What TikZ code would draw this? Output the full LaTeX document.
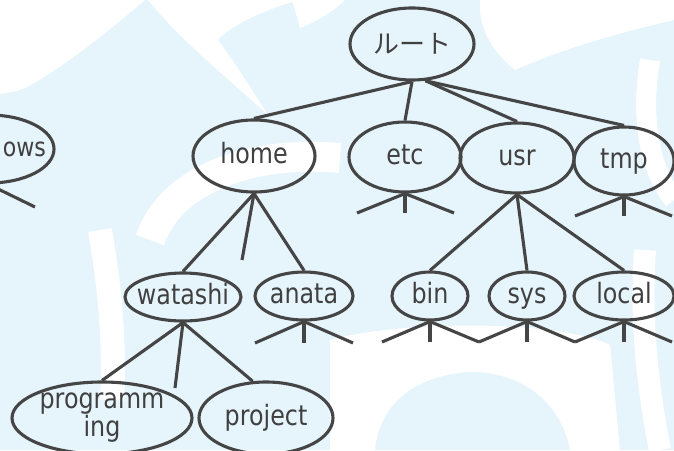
\documentclass[tikz,border=0pt]{standalone}
\usepackage{fontspec}
\setmainfont{DejaVu Sans}[FakeStretch=0.85]
\newfontfamily\jpfont{Noto Sans CJK JP}
\usetikzlibrary{shapes.geometric}
\definecolor{bgblue}{HTML}{E6F4FB}
\definecolor{inkgray}{HTML}{454545}
\definecolor{textgray}{HTML}{404040}

\begin{document}
\begin{tikzpicture}[x=1pt, y=-1pt,
    dir/.style={ellipse, draw=inkgray, line width=3.1pt, inner sep=-12pt,
        text=textgray, font=\fontsize{28}{25}\selectfont},
    onerow/.style={text height=21pt, text depth=7pt},
    branch/.style={draw=inkgray, line width=3.1pt}]
    \useasboundingbox (0,0) rectangle (674,450);
    \clip (0,0) rectangle (674,450);

    % background pattern
    \fill[bgblue] (0,0) rectangle (674,450);
    \fill[white] (0,0) -- (145,0) .. controls (110,30) and (60,70) .. (25,88)
        .. controls (15,92) and (5,93) .. (0,94) -- cycle;
    \fill[white] (148,0) -- (300,0) .. controls (260,10) and (225,30) .. (218,40)
        .. controls (240,70) and (255,95) .. (268,115)
        .. controls (230,80) and (180,40) .. (148,0) -- cycle;
    \fill[white] (292,0) -- (345,0) .. controls (335,10) and (320,20) .. (300,28) -- cycle;
    \fill[white] (480,0) -- (674,0) -- (674,20) .. controls (610,35) and (560,50) .. (515,70)
        .. controls (490,50) and (478,25) .. (480,0) -- cycle;
    \draw[white, line width=20pt] (650,60) .. controls (640,120) and (650,170) .. (674,200);
    \draw[white, line width=30pt] (150,240) .. controls (170,180) and (250,150) .. (340,158);
    \draw[white, line width=24pt] (100,230) .. controls (110,290) and (115,340) .. (112,400);
    \fill[white] (330,340) .. controls (400,320) and (560,320) .. (610,345)
        -- (620,450) -- (330,450) -- cycle;
    \fill[bgblue] (375,450) .. controls (380,400) and (420,375) .. (470,372)
        .. controls (520,372) and (560,400) .. (570,450) -- cycle;
    \draw[white, line width=22pt] (645,250) .. controls (640,320) and (648,390) .. (660,450);

    \node[dir, minimum width=124, minimum height=72] (root) at (412,44) {\jpfont\fontsize{26}{28}\selectfont ルート};
    \node[dir, onerow, minimum width=130, minimum height=68, text width=114, align=right,
        font=\fontsize{26}{25}\selectfont] (win) at (-11,149) {ows};
    \node[dir, onerow, minimum width=122, minimum height=72] (home) at (254,156) {home};
    \node[dir, onerow, minimum width=112, minimum height=70] (etc) at (405,157) {etc};
    \node[dir, onerow, minimum width=114, minimum height=70] (usr) at (517,158) {usr};
    \node[dir, onerow, minimum width=100, minimum height=68] (tmp) at (624,161) {tmp};
    \node[dir, onerow, minimum width=116, minimum height=48] (watashi) at (183,297) {watashi};
    \node[dir, onerow, minimum width=98, minimum height=48] (anata) at (304,296) {anata};
    \node[dir, onerow, minimum width=76, minimum height=48] (bin) at (430,296) {bin};
    \node[dir, onerow, minimum width=76, minimum height=48] (sys) at (527,296) {sys};
    \node[dir, onerow, minimum width=100, minimum height=48] (local) at (624,296) {local};
    \node[dir, minimum width=180, minimum height=72, align=center] (prog) at (102,418) {programm\\ing};
    \node[dir, onerow, minimum width=134, minimum height=72] (project) at (266,418) {project};

    \coordinate (win-r) at (35,207);
    \coordinate (home-m) at (242,260);
    \coordinate (watashi-m) at (175,388);
    \coordinate (etc-l) at (357,213);
    \coordinate (etc-m) at (405,213);
    \coordinate (etc-r) at (454,213);
    \coordinate (tmp-l) at (575,216);
    \coordinate (tmp-m) at (624,216);
    \coordinate (tmp-r) at (672,216);
    \coordinate (anata-l) at (255,343);
    \coordinate (anata-m) at (304,343);
    \coordinate (anata-r) at (353,343);
    \coordinate (bin-l) at (382,342);
    \coordinate (bin-m) at (430,342);
    \coordinate (bin-r) at (479,342);
    \coordinate (sys-m) at (527,342);
    \coordinate (sys-r) at (575,342);
    \coordinate (local-m) at (624,342);
    \coordinate (local-r) at (672,342);

    \draw[branch] (root.south) -- (home.north);
    \draw[branch] (root.south) -- (etc.north);
    \draw[branch] (root.-70) -- (usr.north);
    \draw[branch] (root.-70) -- (tmp.north);

    \draw[branch] (win.south) -- (win-r);

    \draw[branch] (home.south) -- (watashi.north);
    \draw[branch] (home.south) -- (home-m);
    \draw[branch] (home.south) -- (anata.north);

    \draw[branch] (etc.south) -- (etc-l);
    \draw[branch] (etc.south) -- (etc-m);
    \draw[branch] (etc.south) -- (etc-r);

    \draw[branch] (usr.south) -- (bin.north);
    \draw[branch] (usr.south) -- (sys.north);
    \draw[branch] (usr.south) -- (local.north);

    \draw[branch] (tmp.south) -- (tmp-l);
    \draw[branch] (tmp.south) -- (tmp-m);
    \draw[branch] (tmp.south) -- (tmp-r);

    \draw[branch] (watashi.south) -- (prog.north);
    \draw[branch] (watashi.south) -- (watashi-m);
    \draw[branch] (watashi.south) -- (project.110);

    \draw[branch] (anata.south) -- (anata-l);
    \draw[branch] (anata.south) -- (anata-m);
    \draw[branch] (anata.south) -- (anata-r);

    \draw[branch] (bin.south) -- (bin-l);
    \draw[branch] (bin.south) -- (bin-m);
    \draw[branch] (bin.south) -- (bin-r);

    \draw[branch] (sys.south) -- (bin-r);
    \draw[branch] (sys.south) -- (sys-m);
    \draw[branch] (sys.south) -- (sys-r);

    \draw[branch] (local.south) -- (sys-r);
    \draw[branch] (local.south) -- (local-m);
    \draw[branch] (local.south) -- (local-r);
\end{tikzpicture}
\end{document}
